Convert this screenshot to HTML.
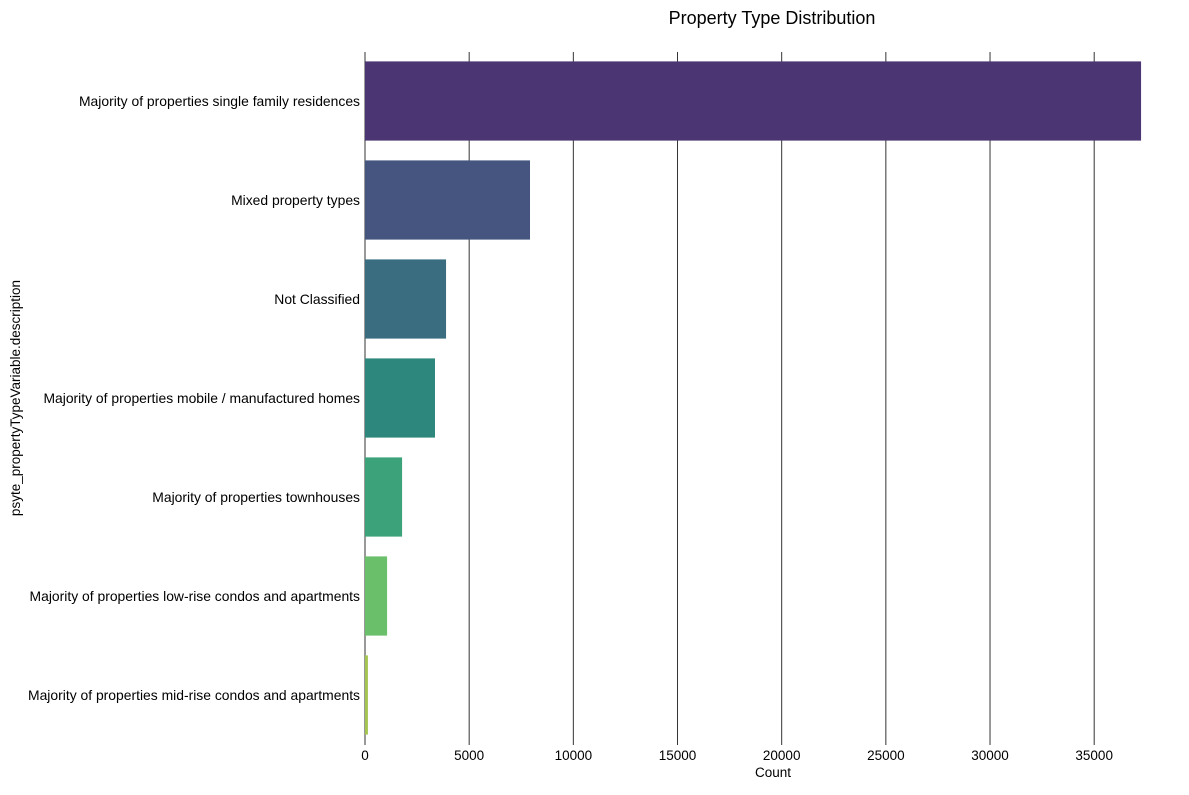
<!DOCTYPE html>
<html><head><meta charset="utf-8"><style>
body{margin:0;background:#fff;font-family:"Liberation Sans",sans-serif}
</style></head><body>
<svg id="chart" width="1189" height="790" xmlns="http://www.w3.org/2000/svg">
<text x="772" y="24" text-anchor="middle" font-size="18" fill="#000">Property Type Distribution</text>
<g id="grid"></g><g id="bars"></g><g id="ylabels"></g><g id="xlabels"></g>
<text x="773" y="777" text-anchor="middle" font-size="13.5" fill="#000">Count</text>
<text transform="translate(20,398) rotate(-90)" text-anchor="middle" font-size="13.5" fill="#000">psyte_propertyTypeVariable.description</text>
</svg>
<script>
const categories=["Majority of properties single family residences","Mixed property types","Not Classified","Majority of properties mobile / manufactured homes","Majority of properties townhouses","Majority of properties low-rise condos and apartments","Majority of properties mid-rise condos and apartments"];
const counts=[37250,7920,3890,3360,1780,1060,140];
const colors=["#4b3573","#46557f","#3a6d80","#2e877c","#3ba27a","#6abf6b","#a4c54f"];
const xTicks=[0,5000,10000,15000,20000,25000,30000,35000];
const NS="http://www.w3.org/2000/svg";
const x0=365,pxPer=104.17/5000,plotTop=51.5,step=99,plotBottom=745;
const xs=v=>x0+v*pxPer;
const yc=i=>plotTop+step*(i+0.5);
function mk(t,a,p){const e=document.createElementNS(NS,t);for(const k in a)e.setAttribute(k,a[k]);p.appendChild(e);return e;}
const g=document.getElementById('grid'),b=document.getElementById('bars'),yl=document.getElementById('ylabels'),xl=document.getElementById('xlabels');
xTicks.forEach(t=>{
 const l=mk('line',{x1:xs(t),x2:xs(t),y1:52,y2:plotBottom,stroke:'#333','stroke-width':1},g);
 
 
 const tx=mk('text',{x:xs(t),y:760,'text-anchor':'middle','font-size':13.5,fill:'#000'},xl);
 tx.textContent=t;
 
 
});
categories.forEach((c,i)=>{
 const h=step*0.8;
 const r=mk('rect',{x:x0,y:yc(i)-h/2,width:xs(counts[i])-x0,height:h,fill:colors[i]},b);
 
 
 const tx=mk('text',{x:360,y:yc(i)+5,'text-anchor':'end','font-size':13.9,fill:'#000'},yl);
 tx.textContent=c;
 
 
});
</script>
</body></html>
